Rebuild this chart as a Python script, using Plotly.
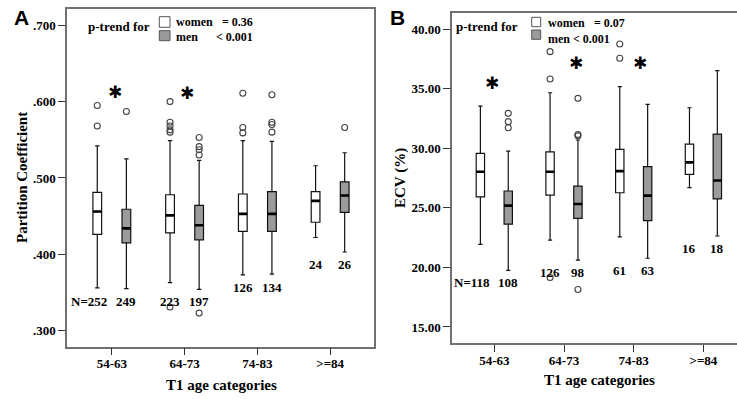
import plotly.graph_objects as go

# ---------------- data ----------------
cats = ["54-63", "64-73", "74-83", ">=84"]

# Panel A: Partition Coefficient
pc_w_q1 = [0.426, 0.428, 0.430, 0.442]
pc_w_med = [0.456, 0.451, 0.453, 0.470]
pc_w_q3 = [0.481, 0.478, 0.479, 0.482]
pc_w_lo = [0.356, 0.363, 0.373, 0.422]
pc_w_hi = [0.542, 0.549, 0.549, 0.516]
pc_w_out = [[0.595, 0.568], [0.600, 0.573, 0.568, 0.563, 0.560, 0.331], [0.611, 0.566, 0.559], []]
pc_m_q1 = [0.415, 0.419, 0.430, 0.455]
pc_m_med = [0.434, 0.438, 0.453, 0.477]
pc_m_q3 = [0.459, 0.464, 0.482, 0.495]
pc_m_lo = [0.355, 0.354, 0.374, 0.403]
pc_m_hi = [0.525, 0.523, 0.548, 0.533]
pc_m_out = [[0.587], [0.553, 0.541, 0.537, 0.530, 0.323], [0.609, 0.573, 0.570, 0.560], [0.566]]
pc_n_w = [252, 223, 126, 24]
pc_n_m = [249, 197, 134, 26]
pc_ticks = [0.3, 0.4, 0.5, 0.6, 0.7]
pc_ticktext = [".300", ".400", ".500", ".600", ".700"]

# Panel B: ECV (%)
ecv_w_q1 = [25.93, 26.07, 26.27, 27.82]
ecv_w_med = [28.03, 28.03, 28.09, 28.82]
ecv_w_q3 = [29.58, 29.71, 29.92, 30.36]
ecv_w_lo = [21.93, 22.29, 22.57, 26.70]
ecv_w_hi = [33.55, 34.67, 35.18, 33.41]
ecv_w_out = [[], [38.12, 35.82, 19.16], [38.76, 37.56], []]
ecv_m_q1 = [23.63, 24.12, 23.93, 25.75]
ecv_m_med = [25.19, 25.33, 26.03, 27.30]
ecv_m_q3 = [26.42, 26.83, 28.46, 31.20]
ecv_m_lo = [19.75, 20.61, 20.77, 22.64]
ecv_m_hi = [29.77, 30.70, 33.70, 36.52]
ecv_m_out = [[32.94, 32.24, 31.73], [34.20, 31.16, 31.05, 18.15], [], []]
ecv_n_w = [118, 126, 61, 16]
ecv_n_m = [108, 98, 63, 18]
ecv_ticks = [15, 20, 25, 30, 35, 40]
ecv_ticktext = ["15.00", "20.00", "25.00", "30.00", "35.00", "40.00"]

# ---------------- styling ----------------
W, H = 737, 399
SERIF = "Liberation Serif"
SANS = "Liberation Sans"
OFF = 0.2
BW = 0.12
MEN_FILL = "#9b9b9b"
FRAME = "#707070"


def px(x):
    return x / W


def py(y):
    return 1 - y / H


fig = go.Figure()
annotations = []
shapes = []


def add_panel(xa, ya, groups, n_w, n_m):
    for (q1, med, q3, lo, hi, out, fill), side in zip(groups, (-1, 1)):
        pos = [i + side * OFF for i in range(len(cats))]
        fig.add_trace(go.Box(
            x=pos, q1=q1, median=med, q3=q3, lowerfence=lo, upperfence=hi,
            width=BW, fillcolor=fill, line=dict(color="#111111", width=1.2),
            whiskerwidth=0.5, boxpoints=False, xaxis=xa, yaxis=ya,
            showlegend=False, hoverinfo="skip"))
        # thick median bars
        mx, my = [], []
        for p, m in zip(pos, med):
            mx += [p - BW / 2, p + BW / 2, None]
            my += [m, m, None]
        fig.add_trace(go.Scatter(x=mx, y=my, mode="lines",
                                 line=dict(color="black", width=2.6),
                                 xaxis=xa, yaxis=ya, showlegend=False,
                                 hoverinfo="skip"))
        ox, oy = [], []
        for p, vals in zip(pos, out):
            for v in vals:
                ox.append(p)
                oy.append(v)
        fig.add_trace(go.Scatter(x=ox, y=oy, mode="markers",
                                 marker=dict(symbol="circle-open", size=6,
                                             color="#444444",
                                             line=dict(width=1.1)),
                                 xaxis=xa, yaxis=ya, showlegend=False,
                                 hoverinfo="skip"))
    # N labels
    wlo = groups[0][3]
    mlo = groups[1][3]
    for i in range(len(cats)):
        base = min(wlo[i], mlo[i])
        for side, n in ((-1, n_w[i]), (1, n_m[i])):
            txt = f"N={n}" if (i == 0 and side == -1) else str(n)
            annotations.append(dict(
                x=i + side * OFF, y=base, xref=xa, yref=ya,
                text=txt, showarrow=False, xanchor="center", yanchor="top",
                xshift=(-8 if (i == 0 and side == -1) else 0), yshift=-3,
                font=dict(family=SERIF, size=13, color="black", weight="bold")))


add_panel("x", "y",
          [(pc_w_q1, pc_w_med, pc_w_q3, pc_w_lo, pc_w_hi, pc_w_out, "white"),
           (pc_m_q1, pc_m_med, pc_m_q3, pc_m_lo, pc_m_hi, pc_m_out, MEN_FILL)],
          pc_n_w, pc_n_m)
add_panel("x2", "y2",
          [(ecv_w_q1, ecv_w_med, ecv_w_q3, ecv_w_lo, ecv_w_hi, ecv_w_out, "white"),
           (ecv_m_q1, ecv_m_med, ecv_m_q3, ecv_m_lo, ecv_m_hi, ecv_m_out, MEN_FILL)],
          ecv_n_w, ecv_n_m)

tickfont = dict(family=SERIF, size=13, color="black", weight="bold")
common_x = dict(tickvals=list(range(len(cats))), ticktext=cats, ticks="outside",
                ticklen=7, tickcolor="#333333", tickwidth=1.2, showline=True,
                linecolor=FRAME, linewidth=1.5, mirror=True, showgrid=False,
                zeroline=False, tickfont=tickfont, fixedrange=True, automargin=False,
                ticklabelstandoff=-3)
common_y = dict(ticks="outside", ticklen=7, tickcolor="#333333", tickwidth=1.2,
                showline=True, linecolor=FRAME, linewidth=1.5, showgrid=False,
                zeroline=False, tickfont=tickfont, fixedrange=True, automargin=False)

fig.update_layout(
    template="none",
    width=W, height=H, margin=dict(l=0, r=0, t=0, b=0, pad=0, autoexpand=False),
    paper_bgcolor="white", plot_bgcolor="white", boxmode="overlay",
    xaxis=dict(common_x, domain=[px(67), px(374.3)], range=[-0.616, 3.607], anchor="y"),
    yaxis=dict(common_y, domain=[py(346.7), py(9)], range=[0.279, 0.7213],
               tickvals=pc_ticks, ticktext=pc_ticktext, mirror=True, anchor="x"),
    xaxis2=dict(common_x, domain=[px(452), 1.0], range=[-0.607, 3.482], anchor="y2"),
    yaxis2=dict(common_y, domain=[py(343.3), py(12.7)], range=[13.63, 41.39],
                tickvals=ecv_ticks, ticktext=ecv_ticktext, mirror=False, anchor="x2"),
)

bold12 = dict(family=SERIF, size=12, color="black", weight="bold")
bold13 = dict(family=SERIF, size=13, color="black", weight="bold")
bold15 = dict(family=SERIF, size=15, color="black", weight="bold")
star = dict(family="DejaVu Sans", size=17, color="black")

# asterisks
for x, y, xr, yr in [(0.04, 0.613, "x", "y"), (1.03, 0.611, "x", "y"),
                     (-0.04, 35.47, "x2", "y2"), (1.17, 37.15, "x2", "y2"),
                     (2.09, 37.15, "x2", "y2")]:
    annotations.append(dict(x=x, y=y, xref=xr, yref=yr, text="✱",
                            xanchor="center", yanchor="middle",
                            showarrow=False, font=star))


def paper_text(x, y, text, font, xanchor="center", angle=0):
    annotations.append(dict(x=px(x), y=py(y), xref="paper", yref="paper", text=text,
                            xanchor=xanchor, yanchor="middle", textangle=angle,
                            showarrow=False, font=font))


# axis titles and panel letters
paper_text(221, 385, "T1 age categories", bold15)
paper_text(599, 380, "T1 age categories", bold15)
paper_text(22, 178, "Partition Coefficient", bold15, angle=-90)
paper_text(400, 178, "ECV (%)", bold15, angle=-90)
letter = dict(family=SANS, size=21, color="black", weight="bold")
paper_text(21.3, 17.5, "A", letter)
paper_text(397.5, 17.5, "B", letter)


# legends
def legend(ptrend_right, ptrend_y, sq_x0, sq_x1, w_y0, w_y1, m_y0, m_y1,
           lab_x, w_ty, m_ty, w_val, w_val_right, m_val, m_val_right):
    paper_text(ptrend_right, ptrend_y, "p-trend for", bold13, xanchor="right")
    shapes.append(dict(type="rect", xref="paper", yref="paper", x0=px(sq_x0), x1=px(sq_x1),
                       y0=py(w_y1), y1=py(w_y0), fillcolor="white",
                       line=dict(color="#555555", width=1)))
    shapes.append(dict(type="rect", xref="paper", yref="paper", x0=px(sq_x0), x1=px(sq_x1),
                       y0=py(m_y1), y1=py(m_y0), fillcolor=MEN_FILL,
                       line=dict(color="#555555", width=1)))
    paper_text(lab_x, w_ty, "women", bold12, xanchor="left")
    paper_text(lab_x, m_ty, "men", bold12, xanchor="left")
    paper_text(w_val_right, w_ty, w_val, bold12, xanchor="right")
    paper_text(m_val_right, m_ty, m_val, bold12, xanchor="right")


legend(152, 26, 159.3, 170, 16.7, 27.3, 30.7, 40.7, 174, 22.5, 37.2,
       "= 0.36", 255, "< 0.001", 255)
legend(520, 26.7, 531.7, 540.7, 17.3, 26.7, 30, 39.3, 545.5, 23.2, 38.8,
       "= 0.07", 627, "< 0.001", 612)

fig.update_layout(annotations=annotations, shapes=shapes)
fig.write_html("out.html", config={"displayModeBar": False},
               post_script="document.body.style.margin='0';document.body.style.overflow='hidden';")
